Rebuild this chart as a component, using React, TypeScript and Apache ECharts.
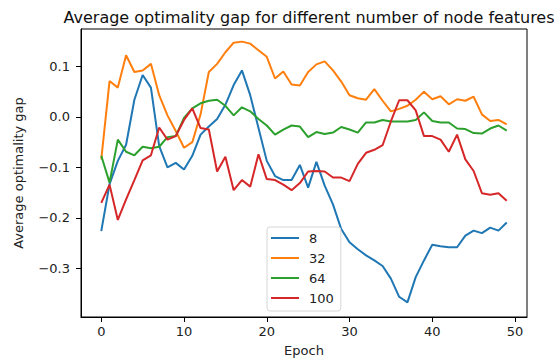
import React, { useEffect, useRef } from "react";
import * as echarts from "echarts";

// Average optimality gap per epoch, one series per node-feature count
const seriesNames = ["8", "32", "64", "100"];

const gap8 = [
  -0.226, -0.133, -0.087, -0.055, 0.034, 0.083, 0.058, -0.058, -0.1, -0.091,
  -0.104, -0.077, -0.035, -0.019, -0.004, 0.024, 0.063, 0.092, 0.043, -0.022,
  -0.087, -0.117, -0.125, -0.125, -0.095, -0.14, -0.089, -0.136, -0.173, -0.222,
  -0.248, -0.262, -0.274, -0.284, -0.295, -0.32, -0.356, -0.367, -0.317, -0.284,
  -0.253, -0.256, -0.258, -0.258, -0.235, -0.225, -0.23, -0.219, -0.225, -0.209,
];

const gap32 = [
  -0.084, 0.071, 0.058, 0.122, 0.089, 0.092, 0.105, 0.043, 0.003, -0.028,
  -0.061, -0.05, 0.005, 0.089, 0.105, 0.128, 0.147, 0.149, 0.145, 0.132,
  0.119, 0.076, 0.09, 0.064, 0.062, 0.089, 0.104, 0.11, 0.092, 0.07,
  0.043, 0.037, 0.034, 0.055, 0.032, 0.011, 0.016, 0.022, 0.034, 0.05,
  0.035, 0.041, 0.025, 0.035, 0.032, 0.04, 0.005, -0.008, -0.006, -0.015,
];

const gap64 = [
  -0.077, -0.13, -0.045, -0.069, -0.076, -0.059, -0.062, -0.059, -0.04, -0.038,
  -0.002, 0.017, 0.027, 0.032, 0.034, 0.022, 0.003, 0.019, 0.011, -0.004,
  -0.017, -0.035, -0.025, -0.017, -0.019, -0.04, -0.03, -0.034, -0.031, -0.02,
  -0.025, -0.031, -0.011, -0.011, -0.006, -0.009, -0.009, -0.009, -0.006, 0.009,
  -0.008, -0.011, -0.011, -0.023, -0.024, -0.032, -0.033, -0.023, -0.017, -0.027,
];

const gap100 = [
  -0.17, -0.134, -0.204, -0.163, -0.125, -0.086, -0.076, -0.021, -0.045, -0.038,
  -0.006, 0.017, -0.022, -0.025, -0.108, -0.079, -0.145, -0.125, -0.138, -0.074,
  -0.123, -0.125, -0.134, -0.145, -0.131, -0.108, -0.107, -0.108, -0.12, -0.12,
  -0.127, -0.093, -0.071, -0.065, -0.056, -0.009, 0.033, 0.033, 0.013, -0.038,
  -0.038, -0.045, -0.069, -0.035, -0.084, -0.107, -0.151, -0.154, -0.151, -0.166,
];

const xTicks = [0, 10, 20, 30, 40, 50];
const yTicks = [-0.3, -0.2, -0.1, 0.0, 0.1];

const colors = ["#1f77b4", "#ff7f0e", "#2ca02c", "#d62728"];
const FONT = "DejaVu Sans";

function fmtTick(v: number): string {
  const s = Math.abs(v).toFixed(1);
  return v < -1e-9 ? "\u2212" + s : s;
}

export default function App() {
  const ref = useRef<HTMLDivElement>(null);

  useEffect(() => {
    document.body.style.margin = "0";
    if (!ref.current) return;
    const chart = echarts.init(ref.current, undefined, { renderer: "svg" });
    const all = [gap8, gap32, gap64, gap100];

    chart.setOption({
      animation: false,
      backgroundColor: "#fff",
      color: colors,
      title: {
        text: "Average optimality gap for different number of node features",
        left: 304,
        textAlign: "center",
        top: 4,
        textStyle: { fontFamily: FONT, fontSize: 16, fontWeight: "normal", color: "#111" },
      },
      grid: {
        left: 81,
        top: 29,
        width: 446,
        height: 290,
        show: true,
        borderColor: "#000",
        borderWidth: 1,
      },
      legend: {
        orient: "vertical",
        left: 267,
        top: 227,
        data: seriesNames,
        icon: "rect",
        itemWidth: 28,
        itemHeight: 2,
        itemGap: 4,
        padding: [3, 7, 5, 4],
        backgroundColor: "#fff",
        borderColor: "#d6d6d6",
        borderWidth: 1,
        borderRadius: 3,
        textStyle: {
          fontFamily: FONT,
          fontSize: 13,
          lineHeight: 16,
          color: "#222",
          padding: [0, 0, 0, 5],
        },
      },
      xAxis: {
        type: "value",
        min: -2.45,
        max: 51.45,
        name: "Epoch",
        nameLocation: "middle",
        nameGap: 27,
        nameTextStyle: { fontFamily: FONT, fontSize: 13, color: "#222" },
        axisLine: { onZero: false, lineStyle: { color: "#000", width: 1 } },
        axisTick: { show: true, length: 5, lineStyle: { color: "#000" }, customValues: xTicks },
        axisLabel: {
          customValues: xTicks,
          fontFamily: FONT,
          fontSize: 13,
          color: "#222",
          margin: 8,
          formatter: (v: number) => String(v),
        },
        splitLine: { show: false },
      },
      yAxis: {
        type: "value",
        min: -0.396,
        max: 0.174,
        name: "Average optimality gap",
        nameLocation: "middle",
        nameGap: 56,
        nameTextStyle: { fontFamily: FONT, fontSize: 13, color: "#222" },
        axisLine: { show: true, onZero: false, lineStyle: { color: "#000", width: 1 } },
        axisTick: { show: true, length: 5, lineStyle: { color: "#000" }, customValues: yTicks },
        axisLabel: {
          customValues: yTicks,
          fontFamily: FONT,
          fontSize: 13,
          color: "#222",
          margin: 11,
          formatter: (v: number) => fmtTick(v),
        },
        splitLine: { show: false },
      },
      series: all.map((vals, k) => ({
        name: seriesNames[k],
        type: "line",
        data: vals.map((v, i) => [i, v]),
        showSymbol: false,
        symbol: "none",
        lineStyle: { width: 2, color: colors[k] },
        itemStyle: { color: colors[k] },
      })),
    });

    return () => chart.dispose();
  }, []);

  return <div ref={ref} style={{ width: 554, height: 362 }} />;
}
